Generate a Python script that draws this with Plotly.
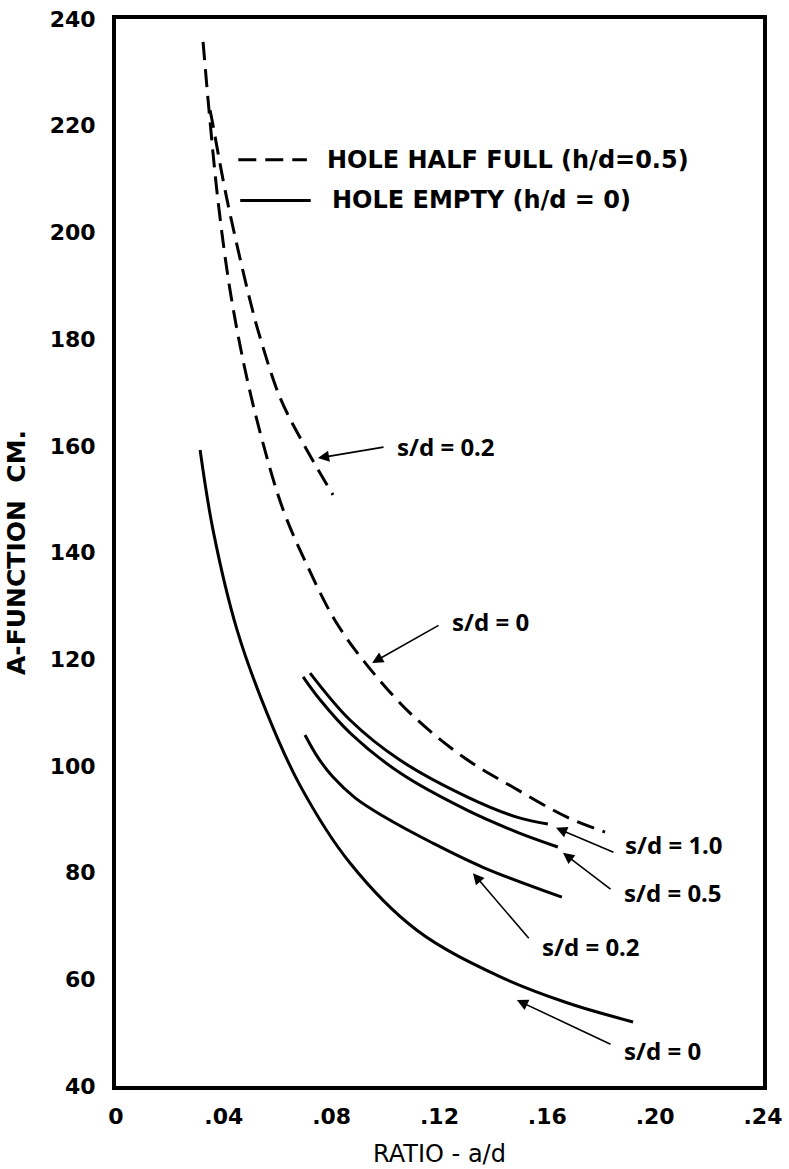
import plotly.graph_objects as go

# ---- data ----
half_s0_x = [0.0323, 0.0345, 0.0378, 0.0423, 0.0479, 0.0542, 0.0620, 0.0708, 0.0812, 0.0931, 0.1091, 0.1287, 0.1473, 0.1673, 0.1814]
half_s0_y = [235.7, 222.9, 206.1, 189.2, 174.2, 161.1, 148.0, 137.7, 127.3, 118.9, 109.9, 101.7, 96.0, 90.4, 87.6]

half_s02_x = [0.0349, 0.0356, 0.0412, 0.0497, 0.0534, 0.0608, 0.0694, 0.0805]
half_s02_y = [222.9, 221.1, 206.1, 187.3, 180.4, 169.1, 160.5, 150.8]

empty_s0_x = [0.0312, 0.0360, 0.0449, 0.0560, 0.0682, 0.0868, 0.1116, 0.1424, 0.1673, 0.1918]
empty_s0_y = [159.2, 144.2, 125.5, 109.9, 96.4, 81.8, 69.2, 60.5, 55.6, 52.0]

empty_s02_x = [0.0701, 0.0750, 0.0805, 0.0887, 0.0990, 0.1176, 0.1361, 0.1654]
empty_s02_y = [105.8, 101.5, 97.9, 94.0, 90.6, 85.5, 81.0, 75.4]

empty_s05_x = [0.0694, 0.0757, 0.0868, 0.1053, 0.1302, 0.1487, 0.1639]
empty_s05_y = [116.7, 112.4, 106.2, 98.7, 91.7, 87.6, 84.8]

empty_s10_x = [0.0720, 0.0868, 0.1053, 0.1302, 0.1487, 0.1602]
empty_s10_y = [117.4, 108.6, 101.1, 94.2, 90.4, 89.1]

x_tickvals = [0, 0.04, 0.08, 0.12, 0.16, 0.20, 0.24]
x_ticktext = ["0", ".04", ".08", ".12", ".16", ".20", ".24"]
y_tickvals = [40, 60, 80, 100, 120, 140, 160, 180, 200, 220, 240]
y_ticktext = ["40", "60", "80", "100", "120", "140", "160", "180", "200", "220", "240"]

# curve labels: text, text position (x, y), arrow tail (x, y), arrow head (x, y)
label_texts = ["s/d = 0.2", "s/d = 0", "s/d = 1.0", "s/d = 0.5", "s/d = 0.2", "s/d = 0"]
label_x = [0.1035, 0.1239, 0.1881, 0.1877, 0.1573, 0.1877]
label_y = [159.8, 127.0, 85.2, 76.2, 66.2, 46.7]
tail_x = [0.0998, 0.1202, 0.1851, 0.1840, 0.1536, 0.1840]
tail_y = [159.8, 126.5, 83.7, 76.7, 67.4, 47.7]
head_x = [0.0749, 0.0950, 0.1632, 0.1658, 0.1324, 0.1487]
head_y = [157.7, 119.3, 88.4, 83.7, 79.9, 56.1]

legend_texts = ["HOLE HALF FULL (h/d=0.5)", "HOLE EMPTY (h/d = 0)"]

FONT = "DejaVu Sans"
DASH = "18px,9px"

fig = go.Figure()

def add_curve(xs, ys, dashed):
    fig.add_trace(go.Scatter(
        x=xs, y=ys, mode="lines",
        line=dict(color="black", width=3, shape="spline", smoothing=1.0,
                  dash=DASH if dashed else "solid"),
        showlegend=False, hoverinfo="skip"))

add_curve(half_s0_x, half_s0_y, True)
add_curve(half_s02_x, half_s02_y, True)
add_curve(empty_s0_x, empty_s0_y, False)
add_curve(empty_s02_x, empty_s02_y, False)
add_curve(empty_s05_x, empty_s05_y, False)
add_curve(empty_s10_x, empty_s10_y, False)

annotations = []
for t, lx, ly, tx, ty, hx, hy in zip(label_texts, label_x, label_y, tail_x, tail_y, head_x, head_y):
    annotations.append(dict(x=lx, y=ly, xref="x", yref="y", text=t, showarrow=False,
                            xanchor="left", yanchor="middle",
                            font=dict(family="Noto Sans", size=24, color="black", weight="bold")))
    annotations.append(dict(x=hx, y=hy, ax=tx, ay=ty, xref="x", yref="y", axref="x", ayref="y",
                            text="", showarrow=True, arrowhead=2, arrowsize=1.4,
                            arrowwidth=1.6, arrowcolor="black"))

# legend (drawn manually to match the original layout)
leg_y = [0.868, 0.830]
leg_line_x0 = [0.189, 0.192]
leg_line_x1 = [0.295, 0.301]
leg_text_x = [0.323, 0.331]
shapes = []
for i, t in enumerate(legend_texts):
    shapes.append(dict(type="line", xref="paper", yref="paper",
                       x0=leg_line_x0[i], x1=leg_line_x1[i], y0=leg_y[i], y1=leg_y[i],
                       line=dict(color="black", width=3, dash=DASH if i == 0 else "solid")))
    annotations.append(dict(x=leg_text_x[i], y=leg_y[i], xref="paper", yref="paper", text=t,
                            showarrow=False, xanchor="left", yanchor="middle",
                            font=dict(family=FONT, size=24, color="black", weight="bold")))

fig.update_layout(
    width=789, height=1169,
    margin=dict(l=116, r=26, t=19, b=83, autoexpand=False),
    paper_bgcolor="white", plot_bgcolor="white",
    annotations=annotations, shapes=shapes,
    showlegend=False,
    font=dict(family=FONT, color="black"),
)
fig.update_xaxes(range=[0, 0.24], tickvals=x_tickvals, ticktext=x_ticktext,
                 automargin=False,
                 showgrid=False, zeroline=False, showline=True, linecolor="black",
                 linewidth=4, mirror=True, ticks="", ticklabelstandoff=8,
                 tickfont=dict(family=FONT, size=22, color="black", weight="bold"),
                 title=dict(text="RATIO - a/d", standoff=18,
                            font=dict(family=FONT, size=24, color="black")))
fig.update_yaxes(range=[40, 240], tickvals=y_tickvals, ticktext=y_ticktext,
                 automargin=False,
                 showgrid=False, zeroline=False, showline=True, linecolor="black",
                 linewidth=4, mirror=True, ticks="", ticklabelstandoff=12,
                 tickfont=dict(family=FONT, size=22, color="black", weight="bold"),
                 title=dict(text="A-FUNCTION  CM.", standoff=18,
                            font=dict(family=FONT, size=25, color="black", weight="bold")))

fig.write_html("out.html", config={"displayModeBar": False},
               post_script="document.body.style.margin='0';")
